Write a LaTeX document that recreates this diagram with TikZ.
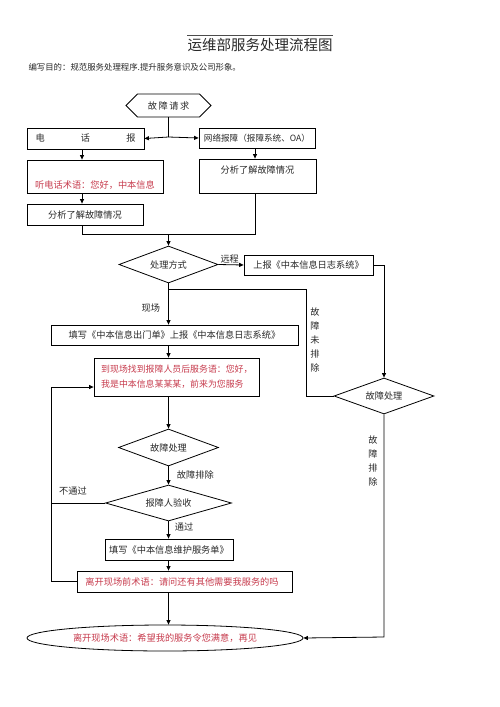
\documentclass[tikz,border=0pt]{standalone}
\usepackage{fontspec}
\newfontfamily\cjk{Noto Sans CJK SC}
\usetikzlibrary{shapes.geometric,shapes.symbols,arrows.meta}
\definecolor{redtxt}{RGB}{198,58,76}
\definecolor{ink}{RGB}{40,40,40}
\begin{document}
\begin{tikzpicture}[x=1pt,y=-1pt,
  every node/.style={font=\cjk\fontsize{9.2}{11}\selectfont, text=ink},
  box/.style={draw=black, line width=0.8pt, rectangle, inner sep=0pt},
  dia/.style={draw=black, line width=0.8pt, diamond, aspect=2.7, inner sep=0pt},
  ln/.style={draw=black, line width=0.8pt},
  arr/.style={ln, -{Triangle[length=4.5pt,width=4pt]}},
  rt/.style={text=redtxt},
  vlab/.style={align=center, inner sep=0pt, font=\cjk\fontsize{9.2}{14}\selectfont}]
\useasboundingbox (0,0) rectangle (500,707);

% title
\coordinate (tl1) at (187,35);
\coordinate (tl2) at (333,35);
\draw[line width=0.6pt, black!70] (tl1) -- (tl2);
\node[font=\cjk\fontsize{14.5}{16}\selectfont] (title) at (260,45) {运维部服务处理流程图};
\node[anchor=west, font=\cjk\fontsize{8.4}{10}\selectfont] (sub) at (25,67) {编写目的：规范服务处理程序.提升服务意识及公司形象。};

% nodes
\node[draw=black, line width=0.8pt, signal, signal to=west and east, minimum width=85pt, minimum height=23pt, inner sep=0pt] (req) at (168.5,105.5) {故\,障\,请\,求};
\node[box, minimum width=117pt, minimum height=21pt] (tel) at (85.5,138.5) {\hbox to 100pt{电\hfil 话\hfil 报}};
\node[box, minimum width=116pt, minimum height=20pt, font=\cjk\fontsize{8.6}{10}\selectfont] (net) at (257,138) {网络报障（报障系统、OA）};
\node[box, minimum width=136pt, minimum height=33pt] (red1) at (95,176.5) {};
\node[rt] (red1t) at (95,185) {听电话术语：您好，中本信息};
\node[box, minimum width=116pt, minimum height=21pt] (ana1) at (85,214.5) {分析了解故障情况};
\node[box, minimum width=117pt, minimum height=34pt] (ana2) at (257.5,176) {};
\node (ana2t) at (257.5,170) {分析了解故障情况};
\node[dia, minimum width=99pt, minimum height=37pt] (proc) at (168.5,264.5) {处理方式};
\node[box, minimum width=129pt, minimum height=20pt] (remote) at (308.5,265) {上报《中本信息日志系统》};
\node[box, minimum width=247pt, minimum height=20pt] (out) at (174.5,335) {填写《中本信息出门单》上报《中本信息日志系统》};
\node[box, minimum width=165pt, minimum height=38pt] (red2) at (176.5,377) {};
\node[rt, anchor=west, align=left, inner sep=0pt, font=\cjk\fontsize{8.9}{15}\selectfont] (red2t) at (101,377) {到现场找到报障人员后服务语：您好，\\我是中本信息某某某，前来为您服务};
\node[dia, minimum width=100pt, minimum height=37pt] (fix) at (168.5,447.5) {故障处理};
\node[dia, minimum width=100pt, minimum height=36pt] (rfix) at (384,396) {故障处理};
\node[dia, minimum width=126pt, minimum height=36pt] (acc) at (168.5,503) {报障人验收};
\node[box, minimum width=128pt, minimum height=21pt] (maint) at (169,549.5) {填写《中本信息维护服务单》};
\node[box, minimum width=215pt, minimum height=21pt] (leave) at (184.5,581.5) {};
\node[rt] (leavet) at (182,581.5) {离开现场前术语：请问还有其他需要我服务的吗};
\node[draw=black, line width=0.8pt, ellipse, minimum width=276pt, minimum height=26pt, inner sep=0pt, rt] (ell) at (165,638) {离开现场术语：希望我的服务令您满意，再见};

% helper coordinates
\coordinate (j1) at (168.5,137);
\coordinate (xa) at (82,0);
\coordinate (xb) at (255,0);
\coordinate (m1) at (82,234);
\coordinate (m2) at (255,234);
\coordinate (m3) at (168.5,234);
\coordinate (r1) at (384,265);
\coordinate (b1) at (168.5,289);
\coordinate (b2) at (306,289);
\coordinate (b3) at (306,396);
\coordinate (l1) at (51,503);
\coordinate (l2) at (51,387);
\coordinate (l3) at (51,581.5);
\coordinate (e1) at (384,637);
\coordinate (sp) at (168.5,0);

% connectors
\draw[ln] (req.south) -- (j1);
\draw[arr] (j1) -- (tel.east);
\draw[arr] (j1) -- (net.west);
\draw[arr] (tel.south -| xa) -- (red1.north -| xa);
\draw[arr] (red1.south -| xa) -- (ana1.north -| xa);
\draw[arr] (net.south -| xb) -- (ana2.north -| xb);
\draw[ln] (ana1.south -| xa) -- (m1) -- (m2) -- (ana2.south -| xb);
\draw[arr] (m3) -- (proc.north);
\draw[arr] (proc.east) -- node[above, pos=0.45, inner sep=1pt] (lremote) {远程} (remote.west);
\draw[arr] (remote.east) -- (r1) -- (rfix.north);
\draw[arr] (proc.south) -- node[left, pos=0.6, inner sep=8pt] (lsite) {现场} (out.north -| sp);
\draw[ln] (b1) -- (b2) -- (b3) -- (rfix.west);
\node[vlab] (lnot) at (315,340) {故\\障\\未\\排\\除};
\draw[arr] (out.south -| sp) -- (red2.north -| sp);
\draw[arr] (red2.south -| sp) -- (fix.north);
\draw[arr] (fix.south) -- node[right, pos=0.45, inner sep=8pt] (lfixed) {故障排除} (acc.north);
\draw[ln] (acc.west) -- (l1) -- (l3);
\draw[arr] (l1) -- (l2) -- (red2.west |- l2);
\node (lno) at (73,491) {不通过};
\draw[ln] (leave.west |- l3) -- (l3);
\draw[arr] (acc.south) -- node[right, pos=0.3, inner sep=6pt] (lpass) {通过} (maint.north -| sp);
\draw[arr] (maint.south -| sp) -- (leave.north -| sp);
\draw[arr] (leave.south -| sp) -- (ell.north -| sp);
\draw[arr] (rfix.south) -- (e1) -- (ell.east);
\node[vlab] (lfx) at (373,461) {故\\障\\排\\除};
\end{tikzpicture}
\end{document}
